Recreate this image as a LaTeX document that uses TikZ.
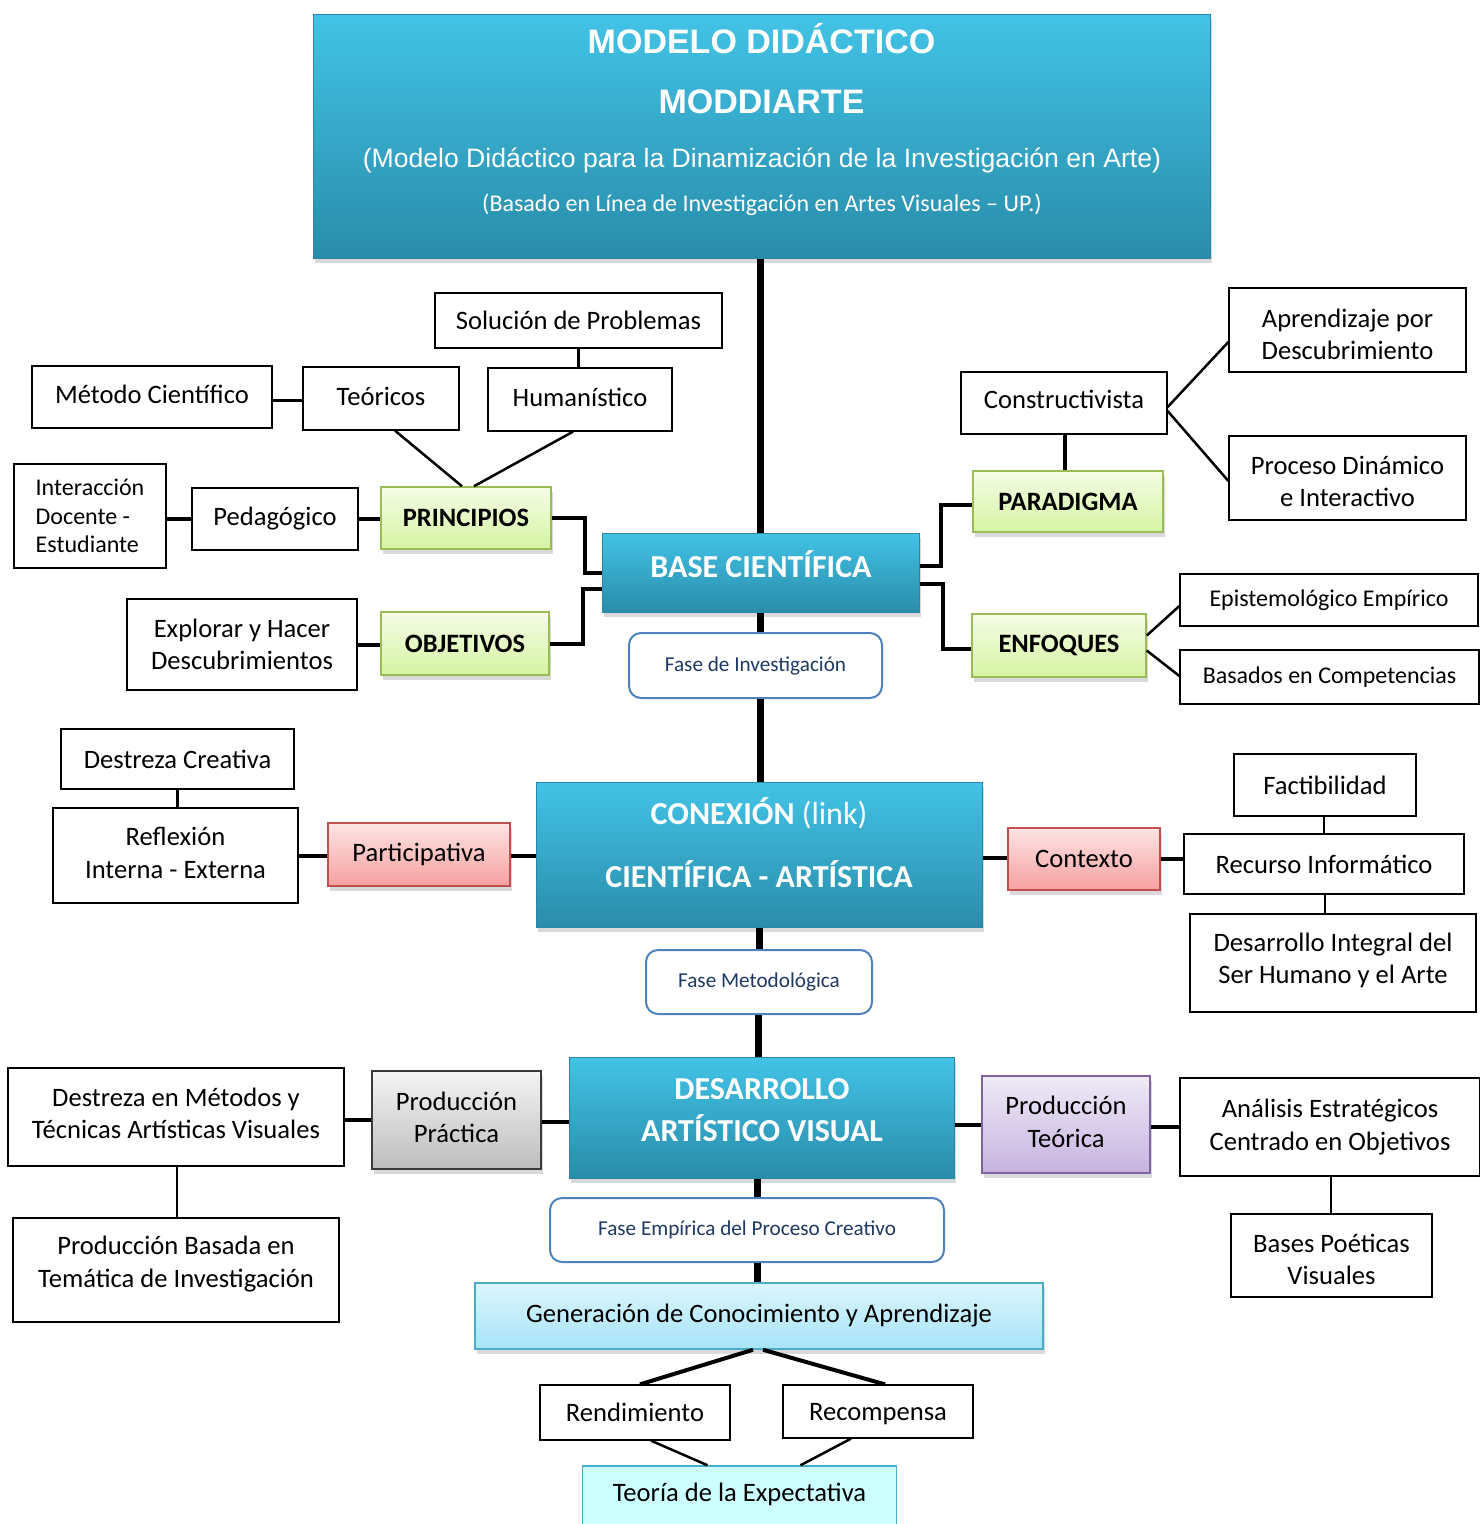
\documentclass[tikz,border=0pt]{standalone}
\usepackage{fontspec}
\setmainfont{Carlito}
\newfontfamily\arialf{Liberation Sans}
\usetikzlibrary{shadows,calc}
\definecolor{bluetop}{HTML}{42C3E6}
\definecolor{bluebot}{HTML}{2A8CAA}
\definecolor{blueedge}{HTML}{2A86A4}
\definecolor{greentop}{HTML}{F5FCE6}
\definecolor{greenbot}{HTML}{D5F4A2}
\definecolor{greenedge}{HTML}{9BBB59}
\definecolor{redtop}{HTML}{FDE4E4}
\definecolor{redbot}{HTML}{F7A0A0}
\definecolor{rededge}{HTML}{C0504D}
\definecolor{graytop}{HTML}{F4F4F4}
\definecolor{graybot}{HTML}{BDBDBD}
\definecolor{grayedge}{HTML}{3A3A3A}
\definecolor{purtop}{HTML}{F0EAF7}
\definecolor{purbot}{HTML}{C6B3E0}
\definecolor{puredge}{HTML}{8064A2}
\definecolor{lbtop}{HTML}{DDF6FD}
\definecolor{lbbot}{HTML}{A6E3F8}
\definecolor{lbedge}{HTML}{4BACC6}
\definecolor{cyanfill}{HTML}{CCFFFF}
\definecolor{faseedge}{HTML}{4F81BD}
\definecolor{fasetext}{HTML}{1F3864}
\newcommand\fs[2]{\fontsize{#1}{#2}\selectfont}
\begin{document}
\begin{tikzpicture}[x=1pt,y=-1pt,
  plain/.style={draw=black, line width=1.3pt, fill=white, inner sep=0pt, align=center, font=\fs{26.6}{32.5}},
  shad/.style={drop shadow={shadow xshift=2pt, shadow yshift=-5pt, opacity=0.3}},
  bluebox/.style={shad, top color=bluetop, bottom color=bluebot, draw=blueedge, line width=1pt, inner sep=0pt, align=center, text=white, font=\fs{32}{42}\bfseries},
  greenbox/.style={shad, top color=greentop, bottom color=greenbot, draw=greenedge, line width=1.5pt, inner sep=0pt, font=\fs{26.5}{32}\bfseries},
  redbox/.style={shad, top color=redtop, bottom color=redbot, draw=rededge, line width=1.5pt, inner sep=0pt, font=\fs{26.6}{32}},
  graybox/.style={shad, top color=graytop, bottom color=graybot, draw=grayedge, line width=1.5pt, inner sep=0pt, align=center, font=\fs{26.6}{32.5}},
  purbox/.style={shad, top color=purtop, bottom color=purbot, draw=puredge, line width=1.5pt, inner sep=0pt, align=center, font=\fs{26.6}{32.5}},
  lbbox/.style={shad, top color=lbtop, bottom color=lbbot, draw=lbedge, line width=1.5pt, inner sep=0pt, font=\fs{26.6}{32}},
  fasebox/.style={draw=faseedge, line width=2pt, fill=white, rounded corners=12pt, inner sep=0pt, text=fasetext, font=\fs{21.2}{26}},
  spine/.style={line width=7pt},
  thick4/.style={line width=4pt},
  thin2/.style={line width=2.5pt}
]
\useasboundingbox (0,0) rectangle (1480,1524);

% ---------- title ----------
\node[bluebox, minimum width=897pt, minimum height=244pt] (title) at (761.5,136) {};
\node[anchor=base, text=white, font=\arialf\fs{34}{40}\bfseries] (tl1) at (761.5,53) {MODELO DIDÁCTICO};
\node[anchor=base, text=white, font=\arialf\fs{34}{40}\bfseries] (tl2) at (761.5,113) {MODDIARTE};
\node[anchor=base, text=white, font=\arialf\fs{26.6}{32}] (tl3) at (762,167) {(Modelo Didáctico para la Dinamización de la Investigación en Arte)};
\node[anchor=base, text=white, font=\fs{24}{28}] (tl4) at (762,211) {(Basado en Línea de Investigación en Artes Visuales – UP.)};

% ---------- base cientifica ----------
\node[bluebox, minimum width=317pt, minimum height=79pt] (base) at (760.5,572.5) {};
\node[text=white, font=\fs{32}{40}\bfseries] (baseT) at (761,564) {BASE CIENTÍFICA};
\node[fasebox, minimum width=253pt, minimum height=65pt] (fase1) at (755.5,665.5) {Fase de Investigación};

% left upper
\node[plain, minimum width=287pt, minimum height=55pt] (sol) at (578.5,320.5) {Solución de Problemas};
\node[plain, minimum width=240pt, minimum height=62pt, text depth=6pt] (met) at (152,397) {Método Científico};
\node[plain, minimum width=156pt, minimum height=63pt, text depth=4pt] (teo) at (381,398.5) {Teóricos};
\node[plain, minimum width=184pt, minimum height=63pt, text depth=4pt] (hum) at (580,399.5) {Humanístico};
\node[plain, minimum width=152pt, minimum height=104pt, align=left, font=\fs{24}{28.5}] (inter) at (90,516) {Interacción\\Docente -\\Estudiante};
\node[plain, minimum width=166pt, minimum height=62pt] (ped) at (275,519) {Pedagógico};
\node[greenbox, minimum width=170pt, minimum height=62pt] (princ) at (466,518) {PRINCIPIOS};
\node[plain, minimum width=230pt, minimum height=91pt] (expl) at (242,644.5) {Explorar y Hacer\\Descubrimientos};
\node[greenbox, minimum width=168pt, minimum height=63pt] (obj) at (465,643.5) {OBJETIVOS};

% right upper
\node[plain, minimum width=206pt, minimum height=62pt, text depth=8pt] (cons) at (1064,403) {Constructivista};
\node[greenbox, minimum width=190pt, minimum height=61pt] (parad) at (1068,501.5) {PARADIGMA};
\node[plain, minimum width=237pt, minimum height=84pt] (apr) at (1347.5,330) {\rule{0pt}{27pt}Aprendizaje por\\Descubrimiento};
\node[plain, minimum width=237pt, minimum height=84pt] (proc) at (1347.5,478) {\rule{0pt}{25pt}Proceso Dinámico\\e Interactivo};
\node[greenbox, minimum width=174pt, minimum height=63pt] (enf) at (1059,645.5) {ENFOQUES};
\node[plain, minimum width=298pt, minimum height=52pt, font=\fs{24}{28}] (epi) at (1329,600) {Epistemológico Empírico};
\node[plain, minimum width=299pt, minimum height=54pt, font=\fs{24}{28}] (bas) at (1329.5,677) {Basados en Competencias};

% ---------- conexion ----------
\node[bluebox, minimum width=446pt, minimum height=145pt] (conex) at (759,854.5) {};
\node[text=white, align=center, font=\fs{32}{63}\bfseries] (conexT) at (759,842.5) {CONEXIÓN {\mdseries(link)}\\CIENTÍFICA - ARTÍSTICA};
\node[plain, minimum width=233pt, minimum height=60pt] (destc) at (177.5,759) {Destreza Creativa};
\node[plain, minimum width=245pt, minimum height=95pt, text depth=5pt] (refl) at (175.5,855.5) {Reflexión\\Interna - Externa};
\node[redbox, minimum width=182pt, minimum height=63pt] (part) at (419,854.5) {Participativa};
\node[redbox, minimum width=152pt, minimum height=62pt] (cont) at (1084,859) {Contexto};
\node[plain, minimum width=182pt, minimum height=62pt] (fact) at (1325,785) {Factibilidad};
\node[plain, minimum width=280pt, minimum height=60pt] (rec) at (1324,864) {Recurso Informático};
\node[plain, minimum width=286pt, minimum height=98pt, text depth=9pt] (desi) at (1333,963) {Desarrollo Integral del\\Ser Humano y el Arte};
\node[fasebox, minimum width=226pt, minimum height=64pt] (fase2) at (759,982) {Fase Metodológica};

% ---------- desarrollo ----------
\node[bluebox, minimum width=385pt, minimum height=121pt] (desa) at (761.5,1117.5) {};
\node[text=white, align=center, font=\fs{32}{42}\bfseries] (desaT) at (762,1110) {DESARROLLO\\ARTÍSTICO VISUAL};
\node[graybox, minimum width=169pt, minimum height=98pt, text depth=6pt] (prp) at (456.5,1120) {Producción\\Práctica};
\node[plain, minimum width=336pt, minimum height=98pt, text depth=8pt] (dmt) at (176,1117) {Destreza en Métodos y\\Técnicas Artísticas Visuales};
\node[plain, minimum width=326pt, minimum height=104pt, text depth=17pt] (pbi) at (176,1270) {Producción Basada en\\Temática de Investigación};
\node[purbox, minimum width=168pt, minimum height=97pt, text depth=6pt] (prt) at (1066,1124.5) {Producción\\Teórica};
\node[plain, minimum width=300pt, minimum height=98pt] (ana) at (1330,1127) {Análisis Estratégicos\\Centrado en Objetivos};
\node[plain, minimum width=201pt, minimum height=83pt] (bpv) at (1331.5,1255.5) {\rule{0pt}{26pt}Bases Poéticas\\Visuales};
\node[fasebox, minimum width=394pt, minimum height=64pt] (fase3) at (747,1230) {Fase Empírica del Proceso Creativo};
\node[lbbox, minimum width=568pt, minimum height=66pt] (gen) at (759,1316) {Generación de Conocimiento y Aprendizaje};
\node[plain, minimum width=190pt, minimum height=55pt] (rend) at (635,1412.5) {Rendimiento};
\node[plain, minimum width=190pt, minimum height=53pt, text depth=0pt] (recp) at (878,1411.5) {Recompensa};
\node[draw=lbedge, fill=cyanfill, line width=1.5pt, inner sep=0pt, minimum width=314pt, minimum height=80pt, font=\fs{26.6}{32}, text depth=28pt] (teor) at (739.5,1506) {Teoría de la Expectativa};

% ---------- connector end points ----------
\coordinate (sp1) at ($(desa.north)+(-3,0)$);
\coordinate (sp2) at ($(desa.south)+(-4.5,0)$);
\coordinate (sp3) at ($(fase3.south)+(10,0)$);
\coordinate (cm) at ($(met.east)+(0,3)$);
\coordinate (cc) at ($(cons.south)+(1,0)$);
\coordinate (cp) at ($(part.east)+(0,1)$);
\coordinate (cx) at ($(conex.east)+(0,3)$);
\coordinate (cf) at ($(fact.south)+(-1,0)$);
\coordinate (cr) at ($(rec.south)+(1,0)$);
\coordinate (cd) at ($(dmt.east)+(0,3)$);
\coordinate (cq) at ($(prp.east)+(0,2)$);
\coordinate (cds) at ($(dmt.south)+(1,0)$);
\coordinate (ce) at ($(desa.east)+(0,7.5)$);
\coordinate (ct) at ($(prt.east)+(0,2.5)$);
\coordinate (ca) at ($(ana.south)+(1,0)$);

% ---------- connectors ----------
% spine
\draw[spine] (base.north) -- (base.north |- title.south);
\draw[spine] (base.south) -- (base.south |- fase1.north);
\draw[spine] (fase1.south -| base.south) -- (conex.north -| base.south);
\draw[spine] (conex.south) -- (conex.south |- fase2.north);
\draw[spine] (fase2.south -| sp1) -- (sp1);
\draw[spine] (sp2) -- (sp2 |- fase3.north);
\draw[spine] (sp3) -- (sp3 |- gen.north);

% left upper
\draw[thin2] (sol.south) -- (sol.south |- hum.north);
\draw[line width=3pt] (cm) -- (cm -| teo.west);
\draw[thin2] ($(teo.south)+(14,0)$) -- ($(princ.north)+(-4,0)$);
\draw[thin2] ($(hum.south)+(-7,0)$) -- ($(princ.north)+(8,0)$);
\draw[thick4] (ped.west -| inter.east) -- (ped.west);
\draw[thick4] (ped.east) -- (ped.east -| princ.west);
\draw[thick4] (princ.east) -- ++(33,0) |- (base.west);
\draw[thick4] (expl.east) -- (expl.east -| obj.west);
\draw[thick4] (obj.east) -- ++(33,0) |- ($(base.west)+(0,16)$);

% right upper
\draw[line width=3.5pt] (cc) -- (cc |- parad.north);
\draw[thin2] ($(cons.east)+(0,4)$) -- ($(apr.west)+(0,12)$);
\draw[thin2] ($(cons.east)+(0,8)$) -- ($(proc.west)+(0,3)$);
\draw[thick4] ($(base.east)+(0,-7)$) -- ++(21,0) |- ($(parad.west)+(0,3)$);
\draw[thick4] ($(base.east)+(0,11)$) -- ++(23,0) |- ($(enf.west)+(0,3)$);
\draw[thin2] ($(enf.east)+(0,-10)$) -- ($(epi.west)+(0,6)$);
\draw[thin2] ($(enf.east)+(0,5)$) -- ($(bas.west)+(0,-1)$);

% conexion
\draw[thin2] (destc.south) -- (destc.south |- refl.north);
\draw[thick4] (refl.east) -- (refl.east -| part.west);
\draw[thick4] (cp) -- (cp -| conex.west);
\draw[thick4] (cx) -- (cx -| cont.west);
\draw[thick4] (cont.east) -- (cont.east -| rec.west);
\draw[thin2] (cf) -- (cf |- rec.north);
\draw[thin2] (cr) -- (cr |- desi.north);

% desarrollo
\draw[thick4] (cd) -- (cd -| prp.west);
\draw[thick4] (cq) -- (cq -| desa.west);
\draw[thin2] (cds) -- (cds |- pbi.north);
\draw[thick4] (ce) -- (ce -| prt.west);
\draw[thick4] (ct) -- (ct -| ana.west);
\draw[thin2] (ca) -- (ca |- bpv.north);

% bottom
\draw[thick4] ($(gen.south)+(-6,0)$) -- ($(rend.north)+(5,0)$);
\draw[thick4] ($(gen.south)+(4,0)$) -- ($(recp.north)+(7,0)$);
\draw[thin2] ($(rend.south)+(16,0)$) -- ($(teor.north)+(-32,0)$);
\draw[thin2] ($(recp.south)+(-27,0)$) -- ($(teor.north)+(61,0)$);
\end{tikzpicture}
\end{document}
